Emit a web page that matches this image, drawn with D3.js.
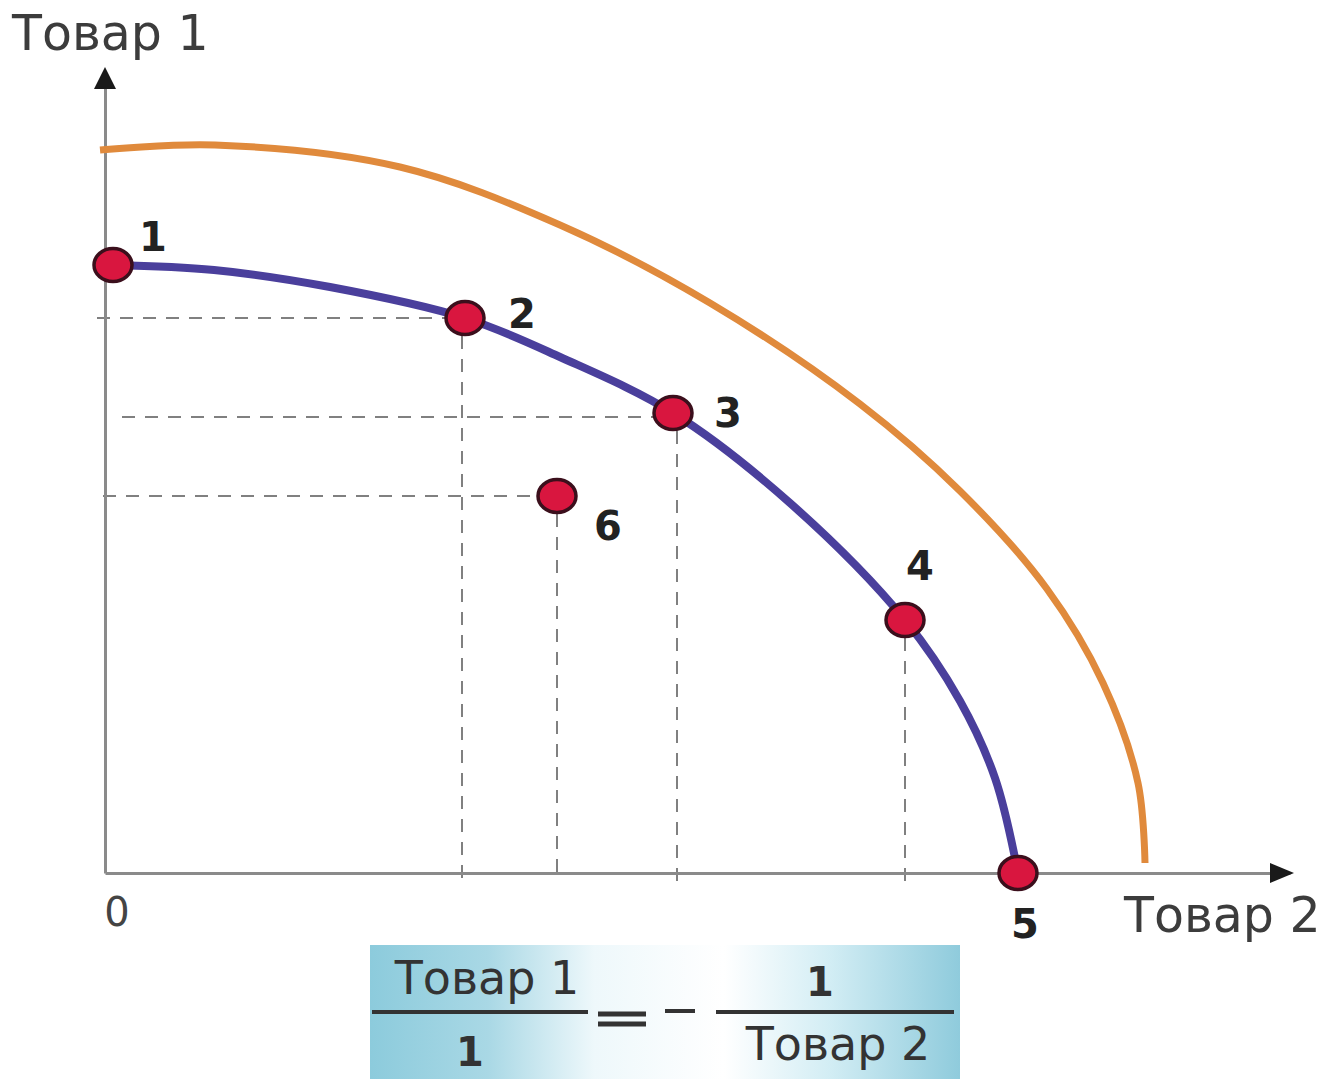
<!DOCTYPE html>
<html>
<head>
<meta charset="utf-8">
<script src="https://cdn.jsdelivr.net/npm/d3@7"></script>
<style>
  html, body { margin: 0; padding: 0; background: #fff; }
  svg { display: block; }
</style>
</head>
<body>
<svg id="chart" width="1337" height="1079"></svg>
<script>
// production frontier (units: goods)
var frontierX = [0.08, 1.09, 2.25, 3.60, 4.55, 5.68, 6.85, 8.00, 8.55, 8.90, 9.13];
var frontierY = [6.08, 6.03, 5.86, 5.55, 5.16, 4.60, 3.70, 2.53, 1.72, 0.95, 0.00];

// shifted frontier (orange)
var shiftedX = [-0.05, 1.10, 2.95, 4.55, 6.05, 7.55, 8.55, 9.42, 9.98, 10.33, 10.40];
var shiftedY = [7.23, 7.28, 7.06, 6.48, 5.70, 4.69, 3.82, 2.84, 1.90, 0.90, 0.10];

// numbered points
var pointNames = ['1', '2', '3', '4', '5', '6'];
var pointX = [0.08, 3.60, 5.68, 8.00, 9.13, 4.52];
var pointY = [6.08, 5.55, 4.60, 2.53, 0.00, 3.77];

// which points get dashed guides to the axes
var guideH = ['2', '3', '6'];
var guideV = ['2', '6', '3', '4'];

var axisTitleY = 'Товар 1';
var axisTitleX = 'Товар 2';
var originLabel = '0';

var svg = d3.select('#chart');

var x = d3.scaleLinear().domain([0, 11.85]).range([105, 1290]);
var y = d3.scaleLinear().domain([0, 8.0]).range([873, 73]);

var FONT = '"DejaVu Sans", Verdana, sans-serif';

// ---- dashed guides (drawn first, under everything) ----
var guides = svg.append('g')
    .attr('stroke', '#808080')
    .attr('stroke-width', 2)
    .attr('stroke-dasharray', '13,10')
    .attr('fill', 'none');

var hStart = {'2': 0.0, '3': 0.25, '6': 0.06};

guideH.forEach(function(name) {
    var i = pointNames.indexOf(name);
    var gy = y(pointY[i]) + (name === '3' ? 4 : 0);
    guides.append('line')
        .attr('x1', x(hStart[name]) - 8)
        .attr('x2', x(pointX[i]) - 16)
        .attr('y1', gy)
        .attr('y2', gy);
});

guideV.forEach(function(name) {
    var i = pointNames.indexOf(name);
    var gx = x(pointX[i]) - (name === '3' ? -4 : (name === '2' ? 3 : 0));
    guides.append('line')
        .attr('x1', gx)
        .attr('x2', gx)
        .attr('y1', y(pointY[i]) + 18)
        .attr('y2', y(0) + 8);
});

// ---- axes ----
var xAxis = d3.axisBottom(x).tickValues([]).tickSizeOuter(0);
var yAxis = d3.axisLeft(y).tickValues([]).tickSizeOuter(0);

var xAxisG = svg.append('g')
    .attr('transform', 'translate(0,' + y(0) + ')')
    .call(xAxis);
var yAxisG = svg.append('g')
    .attr('transform', 'translate(' + x(0) + ',0)')
    .call(yAxis);

[xAxisG, yAxisG].forEach(function(g) {
    g.select('.domain')
        .attr('stroke', '#8a8a8a')
        .attr('stroke-width', 3);
});

// arrow heads
var xEnd = x.range()[1];
var yEnd = y.range()[1];
svg.append('path')
    .attr('d', 'M' + (xEnd + 4) + ',' + y(0) + 'l-24,-10l0,20z')
    .attr('fill', '#1a1a1a');
svg.append('path')
    .attr('d', 'M' + x(0) + ',' + (yEnd - 6) + 'l-11,22l22,0z')
    .attr('fill', '#1a1a1a');

// ---- curves ----
var line = d3.line()
    .x(function(d) { return x(d[0]); })
    .y(function(d) { return y(d[1]); })
    .curve(d3.curveCatmullRom.alpha(0.5));

svg.append('path')
    .datum(d3.zip(shiftedX, shiftedY))
    .attr('d', line)
    .attr('fill', 'none')
    .attr('stroke', '#e08a3c')
    .attr('stroke-width', 7)
    .attr('stroke-linecap', 'butt');

svg.append('path')
    .datum(d3.zip(frontierX, frontierY))
    .attr('d', line)
    .attr('fill', 'none')
    .attr('stroke', '#4a3f9c')
    .attr('stroke-width', 8);

// ---- points ----
var pts = pointNames.map(function(n, i) {
    return {name: n, x: pointX[i], y: pointY[i]};
});

svg.append('g').selectAll('ellipse')
    .data(pts)
    .enter().append('ellipse')
    .attr('cx', function(d) { return x(d.x); })
    .attr('cy', function(d) { return y(d.y); })
    .attr('rx', 19)
    .attr('ry', 16.5)
    .attr('fill', '#d9163f')
    .attr('stroke', '#3b0f1c')
    .attr('stroke-width', 3.5);

// label offsets from the point centre
var labelOffset = {
    '1': [40, -14],
    '2': [57, 10],
    '3': [55, 14],
    '4': [15, -40],
    '5': [7, 65],
    '6': [51, 44]
};

svg.append('g').selectAll('text')
    .data(pts)
    .enter().append('text')
    .attr('x', function(d) { return x(d.x) + labelOffset[d.name][0]; })
    .attr('y', function(d) { return y(d.y) + labelOffset[d.name][1]; })
    .attr('text-anchor', 'middle')
    .attr('font-family', FONT)
    .attr('font-weight', 'bold')
    .attr('font-size', 40)
    .attr('fill', '#222')
    .text(function(d) { return d.name; });

// ---- axis titles ----
svg.append('text')
    .attr('x', 12)
    .attr('y', 50)
    .attr('font-family', FONT)
    .attr('font-size', 49)
    .attr('fill', '#3c3c3c')
    .text(axisTitleY);

svg.append('text')
    .attr('x', 1124)
    .attr('y', 932)
    .attr('font-family', FONT)
    .attr('font-size', 49)
    .attr('fill', '#3c3c3c')
    .text(axisTitleX);

svg.append('text')
    .attr('x', x(0) + 12)
    .attr('y', 926)
    .attr('text-anchor', 'middle')
    .attr('font-family', FONT)
    .attr('font-size', 40)
    .attr('fill', '#444')
    .text(originLabel);

// ---- formula box ----
var defs = svg.append('defs');
var grad = defs.append('linearGradient')
    .attr('id', 'boxGrad')
    .attr('x1', 0).attr('x2', 1).attr('y1', 0).attr('y2', 0);
[[0, '#8ccbdc'], [0.2, '#a9d8e5'], [0.38, '#eef8fb'], [0.6, '#ffffff'],
 [0.78, '#d2edf4'], [1, '#8fcbdc']].forEach(function(s) {
    grad.append('stop').attr('offset', s[0]).attr('stop-color', s[1]);
});

var box = svg.append('g');
box.append('rect')
    .attr('x', 370).attr('y', 945)
    .attr('width', 590).attr('height', 134)
    .attr('fill', 'url(#boxGrad)');

function ftext(str, cx, by, bold, anchor) {
    box.append('text')
        .attr('x', cx).attr('y', by)
        .attr('text-anchor', anchor || 'middle')
        .attr('font-family', FONT)
        .attr('font-size', bold ? 40 : 46)
        .attr('font-weight', bold ? 'bold' : 'normal')
        .attr('fill', '#333')
        .text(str);
}

ftext(axisTitleY, 487, 994);
ftext('1', 470, 1066, true);
ftext('1', 820, 996, true);
ftext(axisTitleX, 838, 1060);

box.append('line').attr('x1', 372).attr('x2', 588)
    .attr('y1', 1012).attr('y2', 1012)
    .attr('stroke', '#333').attr('stroke-width', 4);
box.append('line').attr('x1', 716).attr('x2', 954)
    .attr('y1', 1012).attr('y2', 1012)
    .attr('stroke', '#333').attr('stroke-width', 4);
// "=" and "−"
box.append('line').attr('x1', 598).attr('x2', 646)
    .attr('y1', 1014).attr('y2', 1014)
    .attr('stroke', '#333').attr('stroke-width', 5);
box.append('line').attr('x1', 598).attr('x2', 646)
    .attr('y1', 1024).attr('y2', 1024)
    .attr('stroke', '#333').attr('stroke-width', 5);
box.append('line').attr('x1', 665).attr('x2', 695)
    .attr('y1', 1011).attr('y2', 1011)
    .attr('stroke', '#333').attr('stroke-width', 4);
</script>
</body>
</html>
